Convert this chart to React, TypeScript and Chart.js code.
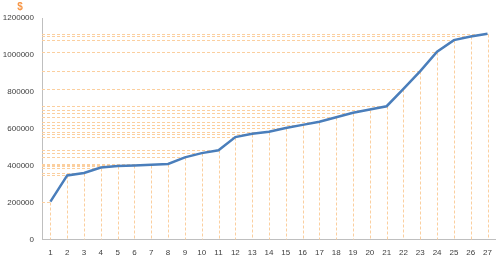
import React, { useEffect, useRef } from "react";
import { Chart, registerables } from "chart.js";

Chart.register(...registerables);

const categories: string[] = [
  "1", "2", "3", "4", "5", "6", "7", "8", "9", "10", "11", "12", "13", "14",
  "15", "16", "17", "18", "19", "20", "21", "22", "23", "24", "25", "26", "27",
];

const values: number[] = [
  205000, 347000, 360000, 390000, 398000, 401000, 405000, 409000, 445000,
  468000, 483000, 555000, 573000, 584000, 604000, 621000, 638000, 662000,
  687000, 704000, 722000, 816000, 912000, 1017000, 1080000, 1100000, 1115000,
];

const yTickMin = 0;
const yTickMax = 1200000;
const yTickStep = 200000;
const axisUnit = "$";

const dropLinesPlugin = {
  id: "dropLines",
  beforeDatasetsDraw(chart: any) {
    const { ctx, chartArea } = chart;
    const meta = chart.getDatasetMeta(0);
    ctx.save();
    ctx.strokeStyle = "#fbcf9f";
    ctx.lineWidth = 1;
    ctx.setLineDash([3, 2]);
    meta.data.forEach((pt: any) => {
      const x = Math.round(pt.x) + 0.5;
      const y = Math.round(pt.y) + 0.5;
      ctx.beginPath();
      ctx.moveTo(chartArea.left, y);
      ctx.lineTo(x, y);
      ctx.moveTo(x, y);
      ctx.lineTo(x, chartArea.bottom);
      ctx.stroke();
    });
    ctx.restore();
  },
};

const unitLabelPlugin = {
  id: "unitLabel",
  afterDraw(chart: any) {
    const { ctx, chartArea } = chart;
    ctx.save();
    ctx.fillStyle = "#f79646";
    ctx.font = "bold 10px 'Liberation Sans', Arial, sans-serif";
    ctx.textAlign = "center";
    ctx.textBaseline = "middle";
    ctx.fillText(axisUnit, chartArea.left - 22, chartArea.top - 11);
    ctx.restore();
  },
};

export default function App() {
  const canvasRef = useRef<HTMLCanvasElement | null>(null);

  useEffect(() => {
    document.body.style.margin = "0";
    const canvas = canvasRef.current;
    if (!canvas) return;
    const font = { family: "'Liberation Sans', Arial, sans-serif", size: 8 };
    const chart = new Chart(canvas, {
      type: "line",
      data: {
        labels: categories,
        datasets: [
          {
            data: values,
            borderColor: "#4a7ebb",
            borderWidth: 2.5,
            pointRadius: 0,
            pointHoverRadius: 0,
            tension: 0,
            fill: false,
          },
        ],
      },
      options: {
        animation: false,
        responsive: false,
        maintainAspectRatio: false,
        layout: { padding: { top: 18, right: 2, left: 0, bottom: 0 } },
        plugins: {
          legend: { display: false },
          tooltip: { enabled: false },
          title: { display: false },
        },
        scales: {
          x: {
            offset: true,
            grid: { display: false, drawTicks: false },
            border: { display: true, color: "#bfbfbf", width: 1 },
            ticks: { font, color: "#404040", padding: 8, maxRotation: 0, autoSkip: false },
            afterFit: (scale: any) => {
              scale.height = 19.5;
            },
          },
          y: {
            min: yTickMin,
            max: yTickMax,
            grid: { display: false, drawTicks: false },
            border: { display: true, color: "#bfbfbf", width: 1 },
            ticks: {
              stepSize: yTickStep,
              font,
              color: "#404040",
              padding: 8,
              callback: (v: any) => String(v),
            },
            afterFit: (scale: any) => {
              scale.width = 42;
            },
          },
        },
      },
      plugins: [dropLinesPlugin, unitLabelPlugin],
    });
    return () => chart.destroy();
  }, []);

  return (
    <div style={{ width: 500, height: 259, background: "#fff" }}>
      <canvas ref={canvasRef} width={500} height={259} style={{ display: "block" }} />
    </div>
  );
}
